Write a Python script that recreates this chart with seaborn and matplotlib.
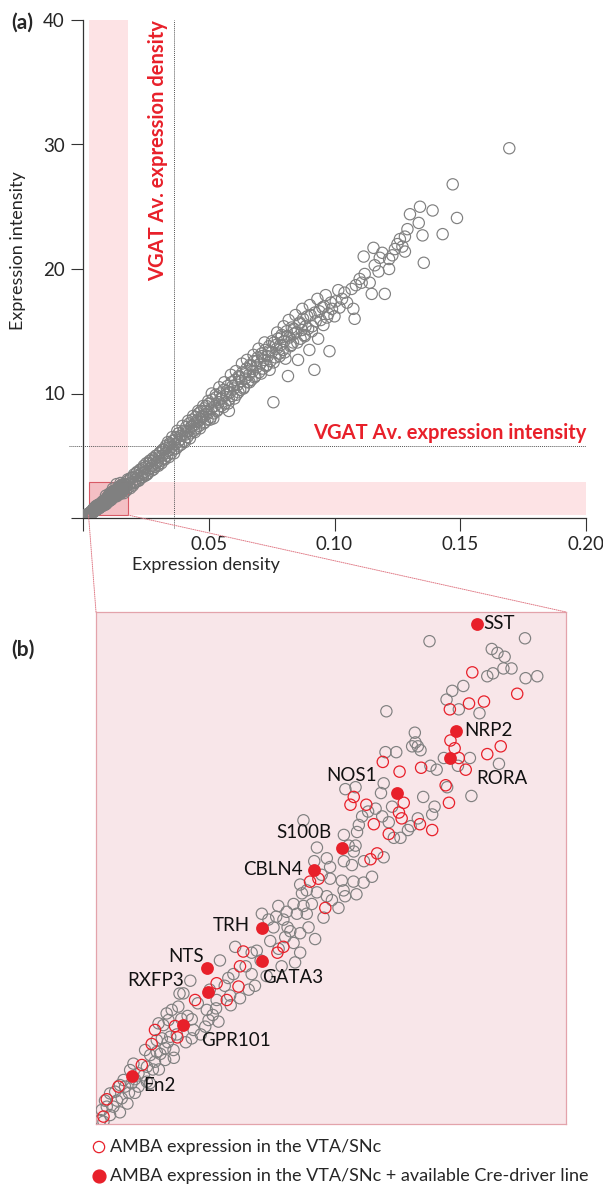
import numpy as np
import pandas as pd
import matplotlib
matplotlib.use("Agg")
import matplotlib.pyplot as plt
import seaborn as sns
from matplotlib.patches import Rectangle, ConnectionPatch

sns.set_style("ticks")
plt.rcParams["font.family"] = ["Lato", "DejaVu Sans"]

GRAY = "#808080"
RED = "#e8202a"

# ---------------- panel (a): genes outside the zoom window ----------------
a_density = [
    0.0008, 0.0012, 0.0016, 0.0005,
    0.0175, 0.018, 0.0185, 0.019, 0.0188, 0.0195, 0.020, 0.0205, 0.021, 0.0212, 0.0218, 0.022, 0.0225,
    0.023, 0.0235, 0.024, 0.0238, 0.0245, 0.025, 0.0255, 0.026, 0.0262, 0.0268, 0.027, 0.0275, 0.028,
    0.0283, 0.0288, 0.029, 0.0295, 0.030, 0.0302, 0.0307, 0.031, 0.0315, 0.032, 0.0322, 0.0328, 0.033,
    0.0335, 0.034, 0.0345, 0.035, 0.0352, 0.0358, 0.036, 0.0365, 0.037, 0.0372, 0.0378, 0.038, 0.0385,
    0.039, 0.0393, 0.040, 0.0402, 0.0408, 0.041, 0.0415, 0.042, 0.0423, 0.0428, 0.043, 0.0435, 0.044,
    0.0443, 0.0448, 0.045, 0.0455, 0.046, 0.0462, 0.0468, 0.047, 0.0475, 0.048, 0.0483, 0.0488, 0.049,
    0.0495, 0.050, 0.0502, 0.0508, 0.051, 0.0515, 0.052, 0.0525, 0.053, 0.0535, 0.054, 0.0545, 0.055,
    0.0553, 0.056, 0.0565, 0.057, 0.0575, 0.058, 0.0585, 0.059, 0.0593, 0.060, 0.0605, 0.061, 0.0615,
    0.062, 0.0625, 0.063, 0.0635, 0.064, 0.0645, 0.065, 0.0655, 0.066, 0.0665, 0.067, 0.0675, 0.068,
    0.0685, 0.069, 0.0695, 0.070, 0.0705, 0.071, 0.0715, 0.072, 0.058,
    0.0725, 0.073, 0.0735, 0.074, 0.0745, 0.075, 0.0757, 0.076, 0.0765, 0.077, 0.0775, 0.078, 0.0785,
    0.079, 0.0795, 0.080, 0.0805, 0.081, 0.0815, 0.082, 0.0825, 0.083, 0.0835, 0.084, 0.0848, 0.0855,
    0.086, 0.0865, 0.087, 0.0875, 0.088, 0.0885, 0.0895, 0.090, 0.0905, 0.091, 0.092, 0.0925, 0.0935,
    0.094, 0.0956, 0.0959, 0.097, 0.098, 0.099, 0.100, 0.1005, 0.1015, 0.102, 0.103, 0.104, 0.105,
    0.1068, 0.1075, 0.108, 0.1085, 0.1108, 0.1116, 0.1148, 0.114, 0.1155, 0.1175, 0.120, 0.1217, 0.1217,
    0.124, 0.128, 0.128, 0.129, 0.130, 0.1335, 0.134, 0.135, 0.1355, 0.139, 0.143, 0.147, 0.1487, 0.1695,
    0.110, 0.112, 0.116, 0.118, 0.119, 0.123, 0.125, 0.126, 0.127,
    0.0152, 0.0158, 0.0163, 0.0168, 0.0172, 0.0178, 0.0183, 0.0192, 0.0198, 0.0203, 0.0208, 0.0215,
    0.0222, 0.0228, 0.0233, 0.0242, 0.0248, 0.0252, 0.0258, 0.0265, 0.0272, 0.0278, 0.0285, 0.0292,
    0.0298, 0.0305, 0.0312, 0.0318, 0.0325, 0.0332,
    0.0338, 0.0342, 0.0348, 0.0355, 0.0362, 0.0368, 0.0375, 0.0382, 0.0388, 0.0396, 0.0405, 0.0412,
    0.0418, 0.0425, 0.0432, 0.0438, 0.0445, 0.0452, 0.0458, 0.0465, 0.0472, 0.0478, 0.0485, 0.0492,
    0.0498, 0.0505,
    0.0512, 0.0518, 0.0528, 0.0533, 0.0542, 0.0548, 0.0558, 0.0562, 0.0572, 0.0578, 0.0588, 0.0595,
    0.0602, 0.0608, 0.0618, 0.0622, 0.0632, 0.0638, 0.0648, 0.0652, 0.0662, 0.0668, 0.0678, 0.0682,
    0.0692, 0.0698, 0.0708, 0.0712, 0.0722, 0.0728, 0.0738, 0.0742,
    0.0752, 0.0758, 0.0768, 0.0772, 0.0782, 0.0788, 0.0798, 0.0802, 0.0812, 0.0818, 0.0828, 0.0838,
    0.0845, 0.0852, 0.0862, 0.0872, 0.0882, 0.0892, 0.0902, 0.0912, 0.0922, 0.0932, 0.0945, 0.0952,
    0.0965, 0.0975, 0.0985,
]
a_intensity = [
    0.15, 0.2, 0.3, 0.05,
    2.6, 3.0, 2.7, 3.2, 2.4, 2.9, 3.3, 2.8, 3.1, 3.6, 3.0, 3.4, 3.8,
    3.2, 3.6, 4.0, 3.3, 3.7, 4.1, 3.5, 3.9, 4.4, 4.0, 4.6, 4.2, 3.9,
    4.7, 4.4, 5.0, 4.5, 4.2, 4.9, 5.3, 4.6, 5.0, 5.5, 4.8, 5.2, 5.8,
    5.0, 5.4, 6.0, 5.2, 5.7, 6.2, 5.5, 5.9, 6.5, 5.6, 6.1, 6.8, 6.3,
    5.9, 6.6, 7.0, 6.2, 6.7, 7.3, 6.5, 7.0, 7.6, 6.8, 7.3, 7.9, 7.0,
    7.5, 8.1, 7.2, 7.7, 8.4, 7.4, 7.9, 8.6, 8.1, 7.6, 8.8, 8.3, 9.0,
    7.9, 8.5, 9.2, 8.1, 8.8, 9.5, 8.4, 9.0, 9.7, 8.7, 9.3, 10.0, 9.0,
    9.6, 10.3, 9.2, 9.9, 10.6, 9.5, 10.1, 10.9, 9.8, 10.4, 11.1, 9.9, 10.7,
    11.4, 10.3, 11.0, 11.7, 10.5, 11.2, 12.0, 10.9, 11.5, 12.3, 11.1, 11.8, 12.6,
    11.4, 12.1, 12.9, 11.7, 12.4, 13.2, 12.0, 12.7, 8.6,
    13.5, 12.3, 13.0, 13.8, 12.6, 13.3, 9.3, 14.1, 12.9, 13.6, 14.4, 13.2, 13.9,
    14.7, 13.5, 14.2, 12.8, 15.0, 11.4, 14.5, 13.8, 15.3, 14.1, 14.8, 14.9, 12.7,
    15.6, 14.4, 15.1, 16.0, 14.7, 15.4, 15.2, 13.5, 16.3, 15.0, 11.9, 15.8, 14.4,
    16.6, 15.5, 17.0, 16.1, 13.4, 16.8, 16.2, 17.4, 18.3, 16.9, 17.6, 18.1, 17.3,
    18.4, 16.8, 16.0, 18.7, 18.9, 21.0, 18.0, 18.9, 21.7, 19.8, 18.0, 20.0, 20.8,
    21.6, 21.4, 22.6, 23.2, 24.4, 23.7, 25.0, 22.7, 20.5, 24.7, 22.8, 26.8, 24.1, 29.7,
    19.2, 19.6, 20.3, 20.9, 21.3, 21.1, 22.0, 22.4, 21.8,
    2.1, 2.6, 2.0, 2.7, 2.2, 3.1, 2.5, 3.2, 2.6, 3.5, 2.9, 3.7,
    3.0, 3.9, 3.3, 4.2, 3.4, 4.4, 3.6, 4.6, 3.8, 4.8, 4.1, 5.0,
    4.3, 5.2, 4.4, 5.5, 4.7, 5.6,
    6.1, 4.9, 5.9, 6.5, 5.2, 6.3, 7.0, 5.8, 6.6, 7.4, 6.1, 7.0,
    7.8, 6.4, 7.4, 8.2, 6.9, 7.8, 8.6, 7.2, 8.2, 9.0, 7.7, 8.6,
    9.4, 7.9,
    10.0, 8.0, 9.9, 8.6, 10.5, 9.6, 8.9, 10.9, 10.2, 9.2, 11.5, 10.6,
    9.6, 11.8, 10.1, 11.3, 12.4, 10.4, 11.7, 12.7, 10.9, 12.2, 13.1, 11.3,
    12.6, 13.6, 11.6, 13.0, 14.1, 12.2, 13.4, 11.9,
    14.2, 12.5, 13.9, 14.9, 13.0, 14.5, 15.4, 13.3, 14.6, 15.9, 13.9, 15.2,
    16.3, 14.1, 15.7, 16.8, 14.6, 16.2, 17.1, 15.4, 16.5, 17.6, 15.9, 16.9,
    17.9, 16.4, 17.3,
]

# ---------------- panel (b): zoom window (density in 1e-3 units) ----------------
b_gray_density_milli = [
    13.34, 16.53, 15.42, 15.61, 15.85, 15.46, 15.27, 15.81, 16.08, 16.55, 16.94, 14.10, 14.47, 13.91,
    14.32, 15.01, 11.90, 12.85, 12.87, 12.95, 13.04, 12.76, 11.87, 12.23, 13.82, 14.29, 14.69, 15.66,
    13.37, 13.58, 11.81, 10.53, 10.87, 11.72, 13.13, 14.74, 13.51, 13.93, 11.29, 11.09, 11.54, 11.76,
    12.09, 11.98, 10.92, 10.98, 12.15, 12.37, 12.62, 12.71, 12.95, 13.43, 10.48, 10.64, 10.87, 10.81,
    11.15, 11.81, 10.48, 10.75,
    9.13, 9.58, 9.49, 9.91, 10.02, 9.74, 10.02, 10.41, 10.80, 11.14, 11.42, 10.47, 10.52, 10.08, 9.91,
    9.58, 9.24, 9.02, 9.08, 9.41, 9.13, 8.80, 8.57, 8.91, 9.24, 8.29, 8.22, 8.46, 8.69, 9.02, 9.52,
    7.96, 7.74, 8.13, 9.02, 8.80, 8.52, 8.02, 7.57, 7.40, 6.85, 6.34, 6.79, 6.62, 7.40, 7.51, 7.01,
    6.68, 6.23, 8.85,
    5.35, 4.99, 4.95, 4.73, 4.62, 4.45, 4.56, 4.29, 4.23, 4.40, 4.68, 4.51, 4.23, 4.01, 3.84, 4.79,
    4.51, 4.17, 3.90, 3.62, 3.34, 3.12, 3.39, 3.17, 2.84, 2.67, 2.56, 2.78, 2.39, 2.67, 2.45, 3.06,
    3.62, 3.90, 5.12, 5.26, 5.46, 5.40, 5.90, 6.21, 6.29, 5.96, 5.40, 5.85,
    2.9, 3.3, 3.5, 3.8, 4.1, 2.5, 3.0, 3.45, 4.35, 4.9, 5.05, 3.25, 2.35, 4.6, 5.6, 6.0, 6.5, 7.2,
    7.7, 8.3, 8.6,
    3.0, 3.5, 4.0, 4.3, 4.8, 5.2, 5.7, 6.1, 6.7, 7.3, 7.9, 8.4, 9.3, 9.8, 10.3, 10.9,
]
b_gray_intensity = [
    2.72, 2.735, 2.68, 2.66, 2.64, 2.555, 2.54, 2.58, 2.58, 2.53, 2.54, 2.465, 2.49, 2.42,
    2.37, 2.35, 2.36, 2.25, 2.20, 2.18, 2.16, 2.18, 2.15, 2.15, 2.12, 2.08, 2.12, 2.09,
    2.08, 2.06, 1.99, 1.96, 1.97, 1.94, 1.92, 1.925, 1.87, 1.97, 1.845, 1.82, 1.86, 1.82,
    1.87, 1.79, 1.74, 1.776, 1.71, 1.71, 1.75, 1.77, 1.81, 1.83, 1.725, 1.67, 1.67, 1.64,
    1.59, 1.61, 1.59, 1.57,
    1.80, 1.66, 1.59, 1.605, 1.56, 1.52, 1.50, 1.49, 1.485, 1.48, 1.51, 1.44, 1.41, 1.39, 1.41,
    1.43, 1.44, 1.47, 1.425, 1.37, 1.36, 1.37, 1.33, 1.32, 1.32, 1.36, 1.305, 1.29, 1.23, 1.22, 1.19,
    1.29, 1.32, 1.25, 1.12, 1.17, 1.20, 1.18, 1.13, 1.12, 1.15, 1.08, 1.01, 0.99, 1.01, 0.95, 0.886,
    0.90, 0.877, 1.07,
    0.976, 0.91, 0.843, 0.826, 0.774, 0.748, 0.808, 0.757, 0.671, 0.68, 0.688, 0.629, 0.61, 0.594, 0.62, 0.62,
    0.569, 0.56, 0.534, 0.50, 0.517, 0.466, 0.449, 0.432, 0.406, 0.397, 0.329, 0.329, 0.312, 0.286, 0.252, 0.372,
    0.432, 0.457, 0.911, 0.795, 0.723, 0.778, 0.826, 0.834, 0.766, 0.774, 0.68, 0.74,
    0.36, 0.40, 0.47, 0.49, 0.52, 0.36, 0.44, 0.55, 0.60, 0.70, 0.78, 0.345, 0.26, 0.66, 0.86, 0.93, 0.95, 1.05,
    1.08, 1.14, 1.25,
    0.30, 0.40, 0.45, 0.52, 0.58, 0.66, 0.70, 0.80, 0.85, 0.93, 1.00, 1.05, 1.25, 1.30, 1.35, 1.42,
]

b_amba_density_milli = [
    14.77, 16.27, 14.66, 15.16, 14.02, 14.04, 14.18, 15.27, 15.72, 14.55, 14.32, 13.06, 12.34, 11.78,
    13.88, 13.99, 12.48, 12.32, 12.41, 10.70, 10.81, 11.23, 11.48, 11.98, 13.02, 13.43, 11.59, 11.37,
    9.35, 9.63, 9.86, 8.46, 8.26, 7.12, 7.01, 6.96, 6.57, 6.23,
    5.51, 4.17, 4.84, 4.92, 4.06, 3.73, 2.95, 2.56, 2.45,
]
b_amba_intensity = [
    2.56, 2.45, 2.40, 2.41, 2.37, 2.21, 2.17, 2.14, 2.18, 2.06, 2.12, 2.07, 2.05, 2.10,
    1.98, 1.89, 1.89, 1.84, 1.81, 1.88, 1.92, 1.88, 1.78, 1.73, 1.78, 1.75, 1.63, 1.60,
    1.485, 1.50, 1.35, 1.15, 1.12, 1.126, 1.05, 0.946, 0.877, 0.963,
    0.877, 0.723, 0.743, 0.685, 0.651, 0.543, 0.432, 0.367, 0.278,
]

cre_genes = ["SST", "NRP2", "RORA", "NOS1", "S100B", "CBLN4", "TRH", "GATA3", "NTS", "RXFP3", "GPR101", "En2"]
cre_density_milli = [14.92, 14.23, 14.03, 12.24, 10.41, 9.47, 7.73, 7.76, 5.90, 5.94, 5.09, 3.39]
cre_intensity = [2.81, 2.26, 2.12, 1.94, 1.66, 1.545, 1.245, 1.075, 1.04, 0.916, 0.748, 0.486]

# label placement (offset in pixels, alignment)
label_offsets = {
    "SST": (7, 0, "left"), "NRP2": (8, 0, "left"), "RORA": (26, -20, "left"),
    "NOS1": (-20, 18, "right"), "S100B": (-10, 15, "right"), "CBLN4": (-11, 0, "right"),
    "TRH": (-12, 3, "right"), "GATA3": (0, -16, "left"), "NTS": (-3, 12, "right"),
    "RXFP3": (-24, 12, "right"), "GPR101": (19, -15, "left"), "En2": (12, -9, "left"),
}

vgat_density = 0.0361
vgat_intensity = 5.81
zoom_x = (0.0022, 0.0179)
zoom_y = (0.24, 2.87)

x_ticks = [0, 0.05, 0.10, 0.15, 0.20]
x_ticklabels = ["", "0.05", "0.10", "0.15", "0.20"]
y_ticks = [0, 10, 20, 30, 40]
y_ticklabels = ["", "10", "20", "30", "40"]

# ---------------- figure ----------------
fig = plt.figure(figsize=(6.03, 11.9), dpi=100)
ax_a = fig.add_axes([83 / 603, 1 - 518 / 1190, 503 / 603, 498 / 1190])
ax_b = fig.add_axes([96 / 603, 1 - 1124 / 1190, 470 / 603, 512 / 1190])

BAND = "#fde3e5"
OVER = "#f4bfc4"

# bands
ax_a.add_patch(Rectangle((zoom_x[0], zoom_y[0]), zoom_x[1] - zoom_x[0], 40 - zoom_y[0],
                         facecolor=BAND, edgecolor="none", zorder=0))
ax_a.add_patch(Rectangle((zoom_x[0], zoom_y[0]), 0.2 - zoom_x[0], zoom_y[1] - zoom_y[0],
                         facecolor=BAND, edgecolor="none", zorder=0))
ax_a.add_patch(Rectangle((zoom_x[0], zoom_y[0]), zoom_x[1] - zoom_x[0], zoom_y[1] - zoom_y[0],
                         facecolor=OVER, edgecolor="#d85a66", linewidth=0.8, zorder=0.5))

# dotted VGAT lines
ax_a.plot([vgat_density, vgat_density], [-0.8, 40], ls=(0, (1, 1)), color="#555555", lw=0.7,
          clip_on=False, zorder=1)
ax_a.plot([-0.0055, 0.2], [vgat_intensity, vgat_intensity], ls=(0, (1, 1)), color="#555555", lw=0.7,
          clip_on=False, zorder=1)

all_x = a_density + [v / 1000 for v in b_gray_density_milli + b_amba_density_milli + cre_density_milli]
all_y = a_intensity + b_gray_intensity + b_amba_intensity + cre_intensity
df_a = pd.DataFrame({"density": all_x, "intensity": all_y})
sns.scatterplot(data=df_a, x="density", y="intensity", ax=ax_a, marker="o", s=66,
                facecolors="none", edgecolor=GRAY, linewidth=0.85, zorder=3)

ax_a.text(0.0298, 40, "VGAT Av. expression density", rotation=90, ha="center", va="top",
          color=RED, fontweight="bold", fontsize=14.5)
ax_a.text(0.2, 6.35, "VGAT Av. expression intensity", ha="right", va="baseline",
          color=RED, fontweight="bold", fontsize=14.5)

ax_a.set_xlim(0, 0.2)
ax_a.set_ylim(0, 40)
ax_a.set_xticks(x_ticks)
ax_a.set_xticklabels(x_ticklabels)
ax_a.set_yticks(y_ticks)
ax_a.set_yticklabels(y_ticklabels)
ax_a.tick_params(direction="out", length=9, width=0.8, color="#333333", labelsize=13.5, pad=4)
for s in ["top", "right"]:
    ax_a.spines[s].set_visible(False)
for s in ["left", "bottom"]:
    ax_a.spines[s].set_linewidth(0.9)
    ax_a.spines[s].set_color("#333333")
ax_a.set_xlabel("")
ax_a.set_ylabel("")
fig.text(206 / 603, 1 - 565 / 1190, "Expression density", ha="center", va="center", fontsize=13)
fig.text(18 / 603, 1 - 251 / 1190, "Expression intensity", ha="center", va="center",
         rotation=90, fontsize=13)
fig.text(11 / 603, 1 - 23 / 1190, "(a)", ha="left", va="center", fontsize=15, fontweight="bold")
fig.text(11 / 603, 1 - 650 / 1190, "(b)", ha="left", va="center", fontsize=15, fontweight="bold")

# ---------------- panel (b) ----------------
ax_b.set_facecolor("#f8e6e9")
df_bg = pd.DataFrame({"density": b_gray_density_milli, "intensity": b_gray_intensity})
df_br = pd.DataFrame({"density": b_amba_density_milli, "intensity": b_amba_intensity})
df_bc = pd.DataFrame({"density": cre_density_milli, "intensity": cre_intensity, "gene": cre_genes})
sns.scatterplot(data=df_bg, x="density", y="intensity", ax=ax_b, marker="o", s=66,
                facecolors="none", edgecolor=GRAY, linewidth=0.85, zorder=3)
sns.scatterplot(data=df_br, x="density", y="intensity", ax=ax_b, marker="o", s=66,
                facecolors="none", edgecolor=RED, linewidth=0.9, zorder=4)
sns.scatterplot(data=df_bc, x="density", y="intensity", ax=ax_b, marker="o", s=85,
                color=RED, edgecolor=RED, linewidth=0, zorder=5)
for g, xv, yv in zip(cre_genes, cre_density_milli, cre_intensity):
    dx, dy, ha = label_offsets[g]
    ax_b.annotate(g, (xv, yv), xytext=(dx, dy), textcoords="offset pixels", ha=ha,
                  va="center", fontsize=13.5, color="#111111", zorder=6)

ax_b.set_xlim(zoom_x[0] * 1000, zoom_x[1] * 1000)
ax_b.set_ylim(zoom_y[0], zoom_y[1])
ax_b.set_xticks([])
ax_b.set_yticks([])
ax_b.set_xlabel("")
ax_b.set_ylabel("")
for s in ax_b.spines.values():
    s.set_color("#e3a3ab")
    s.set_linewidth(0.9)

# connector lines
for xa, xb in [(zoom_x[0], zoom_x[0] * 1000), (zoom_x[1], zoom_x[1] * 1000)]:
    con = ConnectionPatch(xyA=(xa, zoom_y[0]), coordsA=ax_a.transData,
                          xyB=(xb, zoom_y[1]), coordsB=ax_b.transData,
                          color="#e07a86", lw=0.7, ls=(0, (1, 1.2)))
    fig.add_artist(con)

# legend
ax_b.scatter([0.0064], [-0.045], transform=ax_b.transAxes, s=66, facecolors="none",
             edgecolors=RED, linewidths=0.9, clip_on=False)
ax_b.scatter([0.0064], [-0.102], transform=ax_b.transAxes, s=85, color=RED, clip_on=False)
ax_b.text(0.03, -0.045, "AMBA expression in the VTA/SNc", transform=ax_b.transAxes,
          ha="left", va="center", fontsize=13)
ax_b.text(0.03, -0.102, "AMBA expression in the VTA/SNc + available Cre-driver line",
          transform=ax_b.transAxes, ha="left", va="center", fontsize=13)

fig.savefig("out.png", dpi=100)
